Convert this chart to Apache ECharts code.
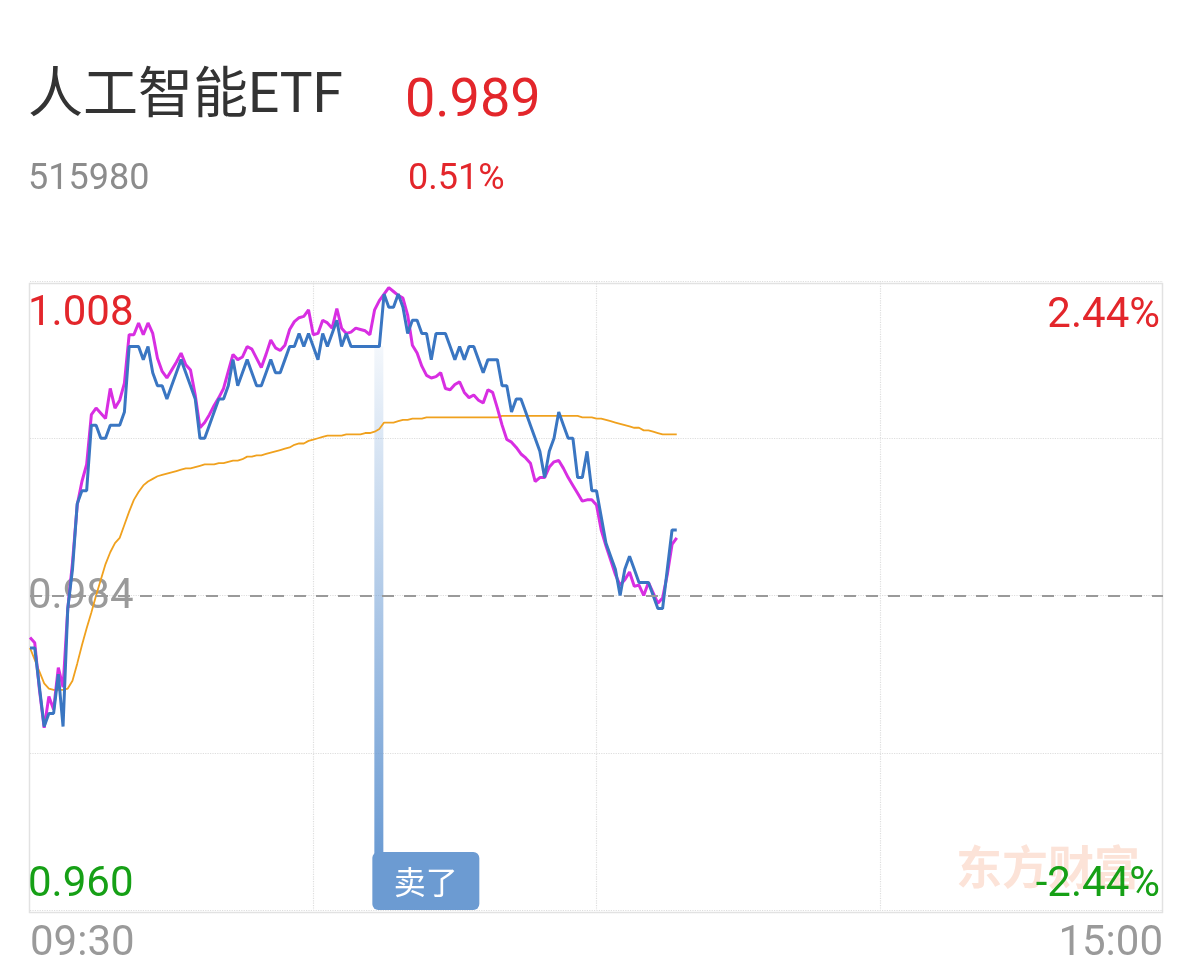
<!DOCTYPE html>
<html>
<head>
<meta charset="utf-8">
<title>人工智能ETF</title>
<script src="https://cdn.jsdelivr.net/npm/echarts@6/dist/echarts.min.js"></script>
<style>
  html, body { margin: 0; padding: 0; background: #fff; }
  #chart { width: 1188px; height: 976px; }
</style>
</head>
<body>
<div id="chart"></div>
<script>
// 基本信息
const stockName = '人工智能ETF'
const stockCode = '515980'
const lastPrice = '0.989'
const lastChange = '0.51%'
const prevClose = 0.984   // 昨收
const priceMin = 0.960
const priceMax = 1.008
const tradeIndex = 74      // 卖出的那一分钟
const tradeLabel = '卖了'

// 价格（蓝线）
const priceData = [
  0.980, 0.980, 0.977, 0.974, 0.975, 0.975, 0.978, 0.974, 0.983, 0.986,
  0.991, 0.992, 0.992, 0.997, 0.997, 0.996, 0.996, 0.997, 0.997, 0.997,
  0.998, 1.003, 1.003, 1.003, 1.002, 1.003, 1.001, 1.000, 1.000, 0.999,
  1.000, 1.001, 1.002, 1.001, 1.000, 0.999, 0.996, 0.996, 0.997, 0.998,
  0.999, 0.999, 1.000, 1.002, 1.000, 1.001, 1.002, 1.001, 1.000, 1.000,
  1.001, 1.002, 1.001, 1.001, 1.002, 1.003, 1.003, 1.004, 1.003, 1.004,
  1.003, 1.002, 1.004, 1.003, 1.004, 1.005, 1.003, 1.004, 1.003, 1.003,
  1.003, 1.003, 1.003, 1.003, 1.003, 1.007, 1.006, 1.006, 1.007, 1.006,
  1.004, 1.005, 1.005, 1.004, 1.004, 1.002, 1.004, 1.004, 1.004, 1.003,
  1.002, 1.003, 1.002, 1.003, 1.003, 1.002, 1.001, 1.002, 1.002, 1.002,
  1.000, 1.000, 0.998, 0.999, 0.999, 0.998, 0.997, 0.996, 0.995, 0.993,
  0.995, 0.996, 0.998, 0.997, 0.996, 0.996, 0.993, 0.993, 0.995, 0.992,
  0.992, 0.990, 0.988, 0.987, 0.986, 0.984, 0.986, 0.987, 0.986, 0.985,
  0.985, 0.985, 0.984, 0.983, 0.983, 0.986, 0.989, 0.989
]

// 参考净值（紫线）
const refData = [
  0.9808, 0.9804, 0.9768, 0.9739, 0.9763, 0.9753, 0.9785, 0.9770, 0.9830, 0.9865,
  0.9909, 0.9927, 0.9940, 0.9978, 0.9983, 0.9979, 0.9975, 0.9998, 0.9983, 0.9989,
  1.0002, 1.0039, 1.0039, 1.0048, 1.0039, 1.0048, 1.0040, 1.0021, 1.0011, 1.0006,
  1.0012, 1.0018, 1.0025, 1.0016, 1.0012, 0.9993, 0.9968, 0.9972, 0.9978, 0.9985,
  0.9991, 0.9998, 1.0011, 1.0024, 1.0020, 1.0022, 1.0030, 1.0028, 1.0021, 1.0014,
  1.0024, 1.0035, 1.0029, 1.0027, 1.0031, 1.0043, 1.0049, 1.0052, 1.0053, 1.0058,
  1.0039, 1.0040, 1.0050, 1.0048, 1.0044, 1.0059, 1.0044, 1.0040, 1.0041, 1.0044,
  1.0043, 1.0042, 1.0039, 1.0058, 1.0065, 1.0070, 1.0075, 1.0072, 1.0069, 1.0067,
  1.0054, 1.0031, 1.0025, 1.0015, 1.0008, 1.0006, 1.0007, 1.0010, 0.9998, 0.9997,
  1.0001, 1.0003, 0.9995, 0.9991, 0.9993, 0.9989, 0.9987, 0.9997, 0.9995, 0.9983,
  0.9970, 0.9959, 0.9957, 0.9953, 0.9948, 0.9945, 0.9941, 0.9927, 0.9930, 0.9930,
  0.9938, 0.9942, 0.9943, 0.9937, 0.9930, 0.9924, 0.9918, 0.9912, 0.9913, 0.9913,
  0.9909, 0.9890, 0.9878, 0.9867, 0.9856, 0.9848, 0.9852, 0.9858, 0.9847, 0.9848,
  0.9840, 0.9850, 0.9842, 0.9834, 0.9838, 0.9856, 0.9879, 0.9884
]

// 均价（黄线）
const avgData = [
  0.9800, 0.9791, 0.9782, 0.9773, 0.9769, 0.9768, 0.9768, 0.9768, 0.9769, 0.9775,
  0.9788, 0.9802, 0.9815, 0.9827, 0.9840, 0.9852, 0.9864, 0.9873, 0.9880, 0.9884,
  0.9894, 0.9904, 0.9913, 0.9919, 0.9924, 0.9927, 0.9929, 0.9931, 0.9932, 0.9933,
  0.9934, 0.9935, 0.9936, 0.9937, 0.9937, 0.9938, 0.9939, 0.9940, 0.9940, 0.9940,
  0.9941, 0.9941, 0.9942, 0.9943, 0.9943, 0.9944, 0.9946, 0.9946, 0.9947, 0.9947,
  0.9948, 0.9949, 0.9950, 0.9951, 0.9952, 0.9953, 0.9955, 0.9956, 0.9956, 0.9958,
  0.9959, 0.9960, 0.9961, 0.9962, 0.9962, 0.9962, 0.9962, 0.9963, 0.9963, 0.9963,
  0.9963, 0.9964, 0.9964, 0.9965, 0.9967, 0.9972, 0.9972, 0.9972, 0.9973, 0.9974,
  0.9974, 0.9975, 0.9975, 0.9975, 0.9976, 0.9976, 0.9976, 0.9976, 0.9976, 0.9976,
  0.9976, 0.9976, 0.9976, 0.9976, 0.9976, 0.9976, 0.9976, 0.9976, 0.9976, 0.9976,
  0.9977, 0.9977, 0.9977, 0.9977, 0.9977, 0.9977, 0.9977, 0.9977, 0.9977, 0.9977,
  0.9977, 0.9977, 0.9977, 0.9977, 0.9977, 0.9977, 0.9977, 0.9976, 0.9976, 0.9976,
  0.9975, 0.9975, 0.9974, 0.9973, 0.9972, 0.9971, 0.9970, 0.9969, 0.9968, 0.9968,
  0.9966, 0.9966, 0.9965, 0.9964, 0.9963, 0.9963, 0.9963, 0.9963
]

// 交易时间轴 09:30-11:30, 13:01-15:00
const timeData = []
function pushRange(h0, m0, h1, m1) {
  for (let t = h0 * 60 + m0; t <= h1 * 60 + m1; t++) {
    const h = Math.floor(t / 60), m = t % 60
    timeData.push((h < 10 ? '0' : '') + h + ':' + (m < 10 ? '0' : '') + m)
  }
}
pushRange(9, 30, 11, 30)
pushRange(13, 1, 15, 0)

const RED = '#e3262b'
const GREEN = '#16a016'
const GRAY = '#9a9a9a'
const FONT = 'Roboto, "Noto Sans CJK SC", sans-serif'
const pctMax = (priceMax - prevClose) / prevClose * 100

const near = (a, b) => Math.abs(a - b) < 1e-6

const chart = echarts.init(document.getElementById('chart'))
const option = {
  animation: false,
  backgroundColor: '#fff',
  textStyle: { fontFamily: FONT },
  grid: { left: 30, right: 25, top: 281, bottom: 66, show: false },
  graphic: [
    { type: 'rect', left: 27, top: 281, z: -1, silent: true,
      shape: { width: 1133, height: 629 },
      style: { fill: 'none', stroke: '#e2e2e2', lineWidth: 1.5 } },
    { type: 'text', left: 956, top: 844, z: -1, silent: true,
      style: { text: '东方财富', fill: '#fce3d8', font: 'bold 46px "Noto Sans CJK SC"' } },
    { type: 'text', left: 28, top: 71,
      style: { text: stockName, fill: '#333', font: '55px ' + FONT } },
    { type: 'text', left: 405, top: 76,
      style: { text: lastPrice, fill: RED, font: '54px ' + FONT } },
    { type: 'text', left: 28, top: 162,
      style: { text: stockCode, fill: '#8c8c8c', font: '36px ' + FONT } },
    { type: 'text', left: 408, top: 162,
      style: { text: lastChange, fill: RED, font: '36px ' + FONT } }
  ],
  xAxis: {
    type: 'category',
    data: timeData,
    boundaryGap: false,
    axisLine: { show: false },
    axisTick: { show: false },
    axisLabel: {
      interval: (i) => i === 0 || i === timeData.length - 1,
      alignMinLabel: 'left',
      alignMaxLabel: 'right',
      color: GRAY,
      fontSize: 42,
      margin: 13
    },
    splitLine: {
      show: true,
      interval: (i) => i > 0 && i < timeData.length - 1 && i % 60 === 0,
      lineStyle: { color: '#dedede', type: 'dotted', width: 1.2 }
    }
  },
  yAxis: [
    {
      type: 'value',
      min: priceMin,
      max: priceMax,
      interval: 0.012,
      axisLine: { show: false },
      axisTick: { show: false },
      splitLine: { show: true, lineStyle: { color: '#dedede', type: 'dotted', width: 1.2 } },
      axisLabel: {
        inside: true,
        margin: -2,
        fontSize: 42,
        verticalAlignMinLabel: 'bottom',
        verticalAlignMaxLabel: 'top',
        formatter: (v) => {
          if (near(v, priceMax)) return '{up|' + v.toFixed(3) + '}'
          if (near(v, prevClose)) return '{flat|' + v.toFixed(3) + '}'
          if (near(v, priceMin)) return '{down|' + v.toFixed(3) + '}'
          return ''
        },
        rich: {
          up: { color: RED, fontSize: 42, padding: [12, 0, 0, 0] },
          flat: { color: GRAY, fontSize: 42, padding: [3, 0, 0, 0] },
          down: { color: GREEN, fontSize: 42, padding: [0, 0, 4, 0] }
        }
      }
    },
    {
      type: 'value',
      position: 'right',
      min: -pctMax,
      max: pctMax,
      interval: pctMax / 2,
      axisLine: { show: false },
      axisTick: { show: false },
      splitLine: { show: false },
      axisLabel: {
        inside: true,
        margin: 3,
        fontSize: 42,
        verticalAlignMinLabel: 'bottom',
        verticalAlignMaxLabel: 'top',
        formatter: (v) => {
          if (near(v, pctMax)) return '{up|' + v.toFixed(2) + '%}'
          if (near(v, -pctMax)) return '{down|' + v.toFixed(2) + '%}'
          return ''
        },
        rich: {
          up: { color: RED, fontSize: 42, padding: [14, 0, 0, 0] },
          down: { color: GREEN, fontSize: 42, padding: [0, 0, 4, 0] }
        }
      }
    }
  ],
  series: [
    {
      // 卖出标记
      type: 'custom',
      z: 1,
      clip: false,
      data: [[tradeIndex, priceData[tradeIndex]]],
      renderItem: (params, api) => {
        const top = api.coord([api.value(0), api.value(1)])
        const base = api.coord([api.value(0), priceMin])
        const boxW = 107, boxH = 58
        return {
          type: 'group',
          children: [
            {
              type: 'rect',
              shape: { x: top[0] - 5, y: top[1], width: 9, height: base[1] - top[1] - boxH + 2 },
              style: {
                fill: new echarts.graphic.LinearGradient(0, 0, 0, 1, [
                  { offset: 0, color: 'rgba(107,155,211,0.08)' },
                  { offset: 1, color: 'rgba(107,155,211,1)' }
                ])
              }
            },
            {
              type: 'rect',
              shape: { x: top[0] - 7, y: base[1] - boxH, width: boxW, height: boxH, r: 6 },
              style: { fill: '#6c9bd2' }
            },
            {
              type: 'text',
              style: {
                text: tradeLabel,
                x: top[0] - 7 + boxW / 2,
                y: base[1] - boxH / 2 + 1,
                align: 'center',
                verticalAlign: 'middle',
                fill: '#fff',
                font: '32px "Noto Sans CJK SC"'
              }
            }
          ]
        }
      }
    },
    {
      name: '均价',
      type: 'line',
      data: avgData,
      showSymbol: false,
      z: 2,
      lineStyle: { color: '#f0a11e', width: 1.8 }
    },
    {
      name: '参考',
      type: 'line',
      data: refData,
      showSymbol: false,
      z: 3,
      lineStyle: { color: '#d82ee2', width: 3 }
    },
    {
      name: '价格',
      type: 'line',
      data: priceData,
      showSymbol: false,
      z: 4,
      lineStyle: { color: '#3a76c2', width: 3 },
      markLine: {
        silent: true,
        symbol: 'none',
        label: { show: false },
        lineStyle: { color: '#9a9a9a', type: [12, 10], width: 2 },
        data: [[
          { coord: [0, prevClose] },
          { coord: [timeData.length - 1, prevClose] }
        ]]
      }
    }
  ]
}
chart.setOption(option)
</script>
</body>
</html>
